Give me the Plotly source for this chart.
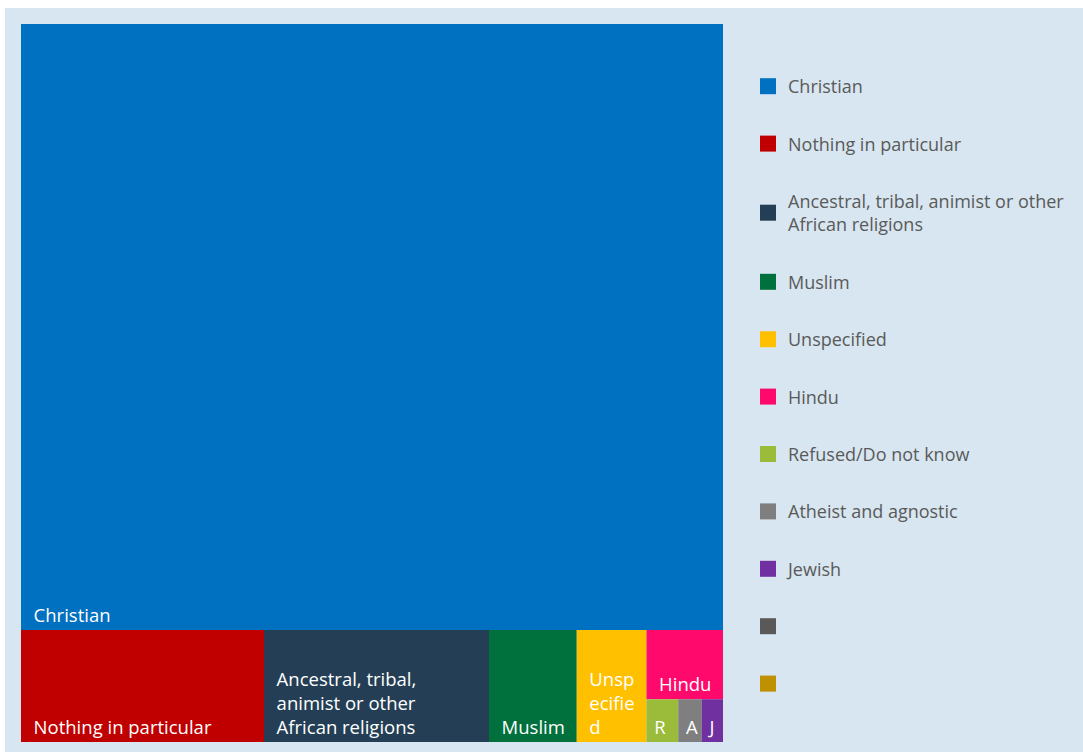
import plotly.graph_objects as go

# Religious affiliation, share of population (%)
categories = [
    "Christian",
    "Nothing in particular",
    "Ancestral, tribal, animist or other African religions",
    "Muslim",
    "Unspecified",
    "Hindu",
    "Refused/Do not know",
    "Atheist and agnostic",
    "Jewish",
    "",
    " ",
]
shares = [84.4, 5.4, 5.0, 1.95, 1.55, 1.05, 0.27, 0.2, 0.18, 0.0, 0.0]

# Text shown inside each tile (one entry per line)
tile_labels = [
    ["Christian"],
    ["Nothing in particular"],
    ["Ancestral, tribal,", "animist or other", "African religions"],
    ["Muslim"],
    ["Unsp", "ecifie", "d"],
    ["Hindu"],
    ["R"],
    ["A"],
    ["J"],
    [""],
    [""],
]
# Left indent (non-breaking spaces) of the tile text
indents = [2, 2, 2, 2, 2, 2, 1, 1, 1, 0, 0]

# Text shown in the legend
legend_labels = [
    "Christian",
    "Nothing in particular",
    "Ancestral, tribal, animist or other<br>African religions",
    "Muslim",
    "Unspecified",
    "Hindu",
    "Refused/Do not know",
    "Atheist and agnostic",
    "Jewish",
    "",
    " ",
]
colors = [
    "#0070c0", "#c00000", "#243f55", "#00703c", "#ffc000",
    "#ff0a6c", "#9bbb3b", "#7f7f7f", "#7030a0", "#595959", "#bf9000",
]

W, H = 1083, 752
ML, MR, MT, MB = 21, 360, 24, 10
PW, PH = W - ML - MR, H - MT - MB

keep = [i for i, v in enumerate(shares) if v > 0]
NB = "\u00a0"


def tile_text(lines, indent):
    return "<br>".join(NB * indent + ln for ln in lines)


fig = go.Figure()
fig.add_trace(go.Treemap(
    labels=[categories[i] for i in keep],
    parents=["" for _ in keep],
    values=[shares[i] for i in keep],
    text=[tile_text(tile_labels[i], indents[i]) for i in keep],
    texttemplate="%{text}",
    textposition="bottom left",
    textfont=dict(color="white", size=18.5, family="Open Sans"),
    marker=dict(colors=[colors[i] for i in keep], line=dict(width=0),
                pad=dict(t=0, l=0, r=0, b=0)),
    tiling=dict(packing="squarify", pad=0),
    pathbar=dict(visible=False),
    root=dict(color="rgba(0,0,0,0)"),
    sort=True,
    hoverinfo="label+value",
    domain=dict(x=[0, 1], y=[0, 1]),
))

# Legend entries
for i, name in enumerate(legend_labels):
    fig.add_trace(go.Scatter(
        x=[None], y=[None], mode="markers", name=name,
        marker=dict(symbol="square", size=18, color=colors[i]),
        legendgroup=f"g{i}", showlegend=True, hoverinfo="skip",
    ))

bg = "#d7e6f0"
fig.update_layout(
    width=W, height=H,
    margin=dict(l=ML, r=MR, t=MT, b=MB),
    paper_bgcolor=bg,
    plot_bgcolor="rgba(0,0,0,0)",
    xaxis=dict(visible=False),
    yaxis=dict(visible=False),
    uniformtext=dict(minsize=18, mode="show"),
    legend=dict(
        x=(748 - ML) / PW, xanchor="left",
        y=1 - (68 - MT) / PH, yanchor="top",
        bgcolor="rgba(0,0,0,0)",
        font=dict(family="Open Sans", size=18, color="#5a5a5a"),
        tracegroupgap=31,
    ),
    shapes=[
        dict(type="rect", xref="paper", yref="paper", layer="below",
             x0=-ML / PW, x1=(W - ML) / PW,
             y0=1 + (MT - 8) / PH, y1=1 + MT / PH,
             fillcolor="white", line=dict(width=0)),
        dict(type="rect", xref="paper", yref="paper", layer="below",
             x0=-ML / PW, x1=-(ML - 5) / PW,
             y0=-MB / PH, y1=1 + MT / PH,
             fillcolor="white", line=dict(width=0)),
    ],
)

fig.write_html("out.html")
